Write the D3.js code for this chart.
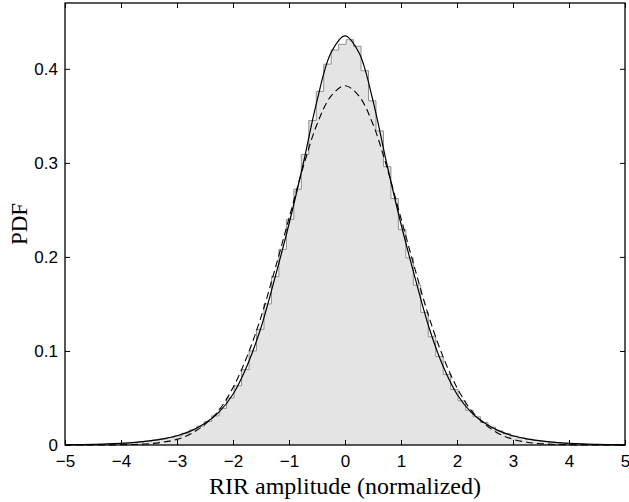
<!DOCTYPE html>
<html>
<head>
<meta charset="utf-8">
<script src="https://cdn.jsdelivr.net/npm/d3@7/dist/d3.min.js"></script>
<style>
  html, body { margin: 0; padding: 0; background: #fff; }
  svg { display: block; }
</style>
</head>
<body>
<svg width="629" height="502"></svg>
<script>
// x grid of the two fitted curves
const xGrid = [-5, -4.75, -4.5, -4.25, -4, -3.75, -3.5, -3.25, -3, -2.75, -2.5, -2.25, -2, -1.75, -1.5, -1.25, -1, -0.75, -0.5, -0.25,
  0, 0.25, 0.5, 0.75, 1, 1.25, 1.5, 1.75, 2, 2.25, 2.5, 2.75, 3, 3.25, 3.5, 3.75, 4, 4.25, 4.5, 4.75, 5];

// solid curve (heavier tails, sharper peak)
const solidPdf = [0.0002, 0.0004, 0.0007, 0.0011, 0.0018, 0.0028, 0.0043, 0.0065, 0.0098, 0.015, 0.023, 0.035, 0.054, 0.084, 0.125, 0.178, 0.235, 0.298, 0.366, 0.417,
  0.435, 0.417, 0.366, 0.298, 0.235, 0.178, 0.125, 0.084, 0.054, 0.035, 0.023, 0.015, 0.0098, 0.0065, 0.0043, 0.0028, 0.0018, 0.0011, 0.0007, 0.0004, 0.0002];

// dashed curve (gaussian fit)
const gaussPdf = [0, 0, 0, 0.0001, 0.0003, 0.0006, 0.0014, 0.003, 0.006, 0.012, 0.022, 0.037, 0.061, 0.094, 0.136, 0.187, 0.241, 0.295, 0.341, 0.371,
  0.382, 0.371, 0.341, 0.295, 0.241, 0.187, 0.136, 0.094, 0.061, 0.037, 0.022, 0.012, 0.006, 0.003, 0.0014, 0.0006, 0.0003, 0.0001, 0, 0, 0];

// histogram: first edge and bin width, then bar heights
const histStart = -3.98;
const histWidth = 2 / 15;
const histVals = [0.0019, 0.0025, 0.0032, 0.004, 0.0051, 0.0064, 0.0079, 0.0098, 0.0125, 0.016,
  0.020, 0.025, 0.031, 0.039, 0.050, 0.063, 0.080, 0.100, 0.123, 0.150,
  0.179, 0.208, 0.240, 0.272, 0.309, 0.345, 0.376, 0.405, 0.420, 0.426,
  0.431, 0.424, 0.398, 0.366, 0.334, 0.296, 0.262, 0.229, 0.199, 0.170,
  0.141, 0.115, 0.094, 0.075, 0.059, 0.047, 0.037, 0.030, 0.024, 0.019,
  0.015, 0.012, 0.0093, 0.0075, 0.006, 0.0048, 0.0038, 0.003, 0.0023, 0.0018];

const xTicks = [-5, -4, -3, -2, -1, 0, 1, 2, 3, 4, 5];
const yTicks = [0, 0.1, 0.2, 0.3, 0.4];

const svg = d3.select("svg");
const L = 65, R = 625, T = 3, B = 445;

const x = d3.scaleLinear().domain([-5, 5]).range([L, R]);
const y = d3.scaleLinear().domain([0, 0.47]).range([B, T]);

const fmt = (d) => (d < 0 ? "\u2212" + Math.abs(d) : String(d));

// histogram stairs
const steps = histVals.map((v, i) => [histStart + i * histWidth, v]);
steps.push([histStart + histVals.length * histWidth, histVals[histVals.length - 1]]);

svg.append("path")
  .datum(steps)
  .attr("fill", "#e4e4e4")
  .attr("stroke", "none")
  .attr("d", d3.area().curve(d3.curveStepAfter).x((d) => x(d[0])).y0(y(0)).y1((d) => y(d[1])));

svg.append("path")
  .datum(steps)
  .attr("fill", "none")
  .attr("stroke", "#909090")
  .attr("stroke-width", 1)
  .attr("d", d3.line().curve(d3.curveStepAfter).x((d) => x(d[0])).y((d) => y(d[1])));

// curves
const curve = d3.line().curve(d3.curveCatmullRom).x((d) => x(d[0])).y((d) => y(d[1]));

svg.append("path")
  .datum(xGrid.map((v, i) => [v, gaussPdf[i]]))
  .attr("fill", "none")
  .attr("stroke", "#000")
  .attr("stroke-width", 1.1)
  .attr("stroke-dasharray", "7,4")
  .attr("d", curve);

svg.append("path")
  .datum(xGrid.map((v, i) => [v, solidPdf[i]]))
  .attr("fill", "none")
  .attr("stroke", "#000")
  .attr("stroke-width", 1.2)
  .attr("d", curve);

// axes (box with inward ticks)
const tickLen = 5;
const font = "'Liberation Sans', Arial, Helvetica, sans-serif";

svg.append("g")
  .attr("transform", `translate(0,${B})`)
  .call(d3.axisBottom(x).tickValues(xTicks).tickSizeInner(-tickLen).tickSizeOuter(0).tickPadding(10).tickFormat(fmt))
  .call((g) => g.select(".domain").remove())
  .call((g) => g.selectAll("text").attr("font-family", font).attr("font-size", 17).attr("fill", "#000"));

svg.append("g")
  .attr("transform", `translate(0,${T})`)
  .call(d3.axisTop(x).tickValues(xTicks).tickSizeInner(-tickLen).tickSizeOuter(0).tickFormat(""))
  .call((g) => g.select(".domain").remove());

svg.append("g")
  .attr("transform", `translate(${L},0)`)
  .call(d3.axisLeft(y).tickValues(yTicks).tickSizeInner(-tickLen).tickSizeOuter(0).tickPadding(7).tickFormat((d) => String(d)))
  .call((g) => g.select(".domain").remove())
  .call((g) => g.selectAll("text").attr("font-family", font).attr("font-size", 17).attr("fill", "#000"));

svg.append("g")
  .attr("transform", `translate(${R},0)`)
  .call(d3.axisRight(y).tickValues(yTicks).tickSizeInner(-tickLen).tickSizeOuter(0).tickFormat(""))
  .call((g) => g.select(".domain").remove());

svg.append("rect")
  .attr("x", L).attr("y", T)
  .attr("width", R - L).attr("height", B - T)
  .attr("fill", "none")
  .attr("stroke", "#000")
  .attr("stroke-width", 1.3);

// axis labels
svg.append("text")
  .attr("x", (L + R) / 2)
  .attr("y", 494)
  .attr("text-anchor", "middle")
  .attr("font-family", "'Liberation Serif', 'Times New Roman', serif")
  .attr("font-size", 24)
  .text("RIR amplitude (normalized)");

svg.append("text")
  .attr("transform", `translate(27,${(T + B) / 2}) rotate(-90)`)
  .attr("text-anchor", "middle")
  .attr("font-family", "'Liberation Serif', 'Times New Roman', serif")
  .attr("font-size", 23)
  .text("PDF");
</script>
</body>
</html>
